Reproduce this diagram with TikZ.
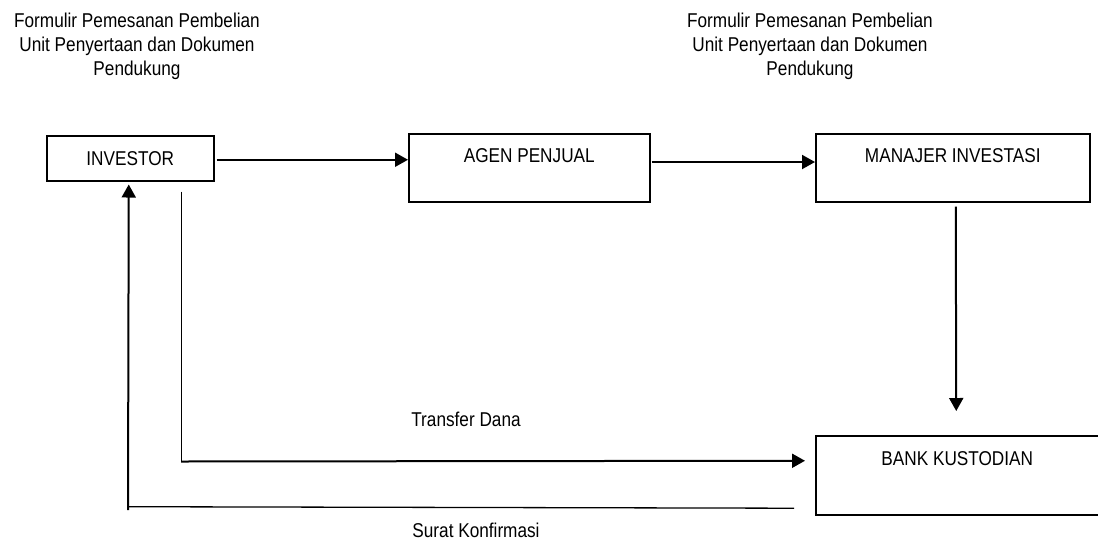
\documentclass[tikz,border=0pt]{standalone}
\usepackage{fontspec}
\setmainfont{Liberation Sans}[FakeStretch=0.86]
\usetikzlibrary{arrows.meta}
\begin{document}
\begin{tikzpicture}[x=1pt,y=-1pt,
  every node/.style={font=\fontsize{20}{24}\selectfont},
  box/.style={draw,line width=1.5pt,inner sep=0pt,align=center},
  arr/.style={line width=2pt,-{Triangle[length=13pt,width=14pt]}},
  thin/.style={line width=1pt},
  lbl/.style={align=center,inner sep=0pt}]
\fill[white] (0,0) rectangle (1098,547);
\useasboundingbox (0,0) rectangle (1098,547);
% boxes
\node[box,anchor=north west,minimum width=167pt,minimum height=45pt] (inv) at (46,135) {INVESTOR};
\node[box,anchor=north west,minimum width=241pt,text height=29pt,text depth=39pt] (agen) at (408,133) {AGEN PENJUAL};
\node[box,anchor=north west,minimum width=274pt,text height=29pt,text depth=39pt] (man) at (815,133) {MANAJER INVESTASI};
\node[box,anchor=north west,minimum width=283pt,text height=30pt,text depth=49pt] (bank) at (815,435) {BANK KUSTODIAN};
% labels
\node[lbl] (l1) at (137,46) {Formulir Pemesanan Pembelian\\Unit Penyertaan dan Dokumen\\Pendukung};
\node[lbl] (l2) at (810,46) {Formulir Pemesanan Pembelian\\Unit Penyertaan dan Dokumen\\Pendukung};
\node[lbl] (l3) at (466,419) {Transfer Dana};
\node[lbl] (l4) at (476,530) {Surat Konfirmasi};
% connectors
\draw[arr] ([xshift=2pt,yshift=-1.5pt]inv.east) -- ([yshift=-1.5pt]inv.east -| agen.west);
\draw[arr] ([xshift=1pt,yshift=-29pt]agen.north east) -- ([yshift=-29pt]man.north west);
\draw[arr] ([xshift=3pt,yshift=-4pt]man.south) -- ([xshift=-1pt,yshift=24pt]bank.north);
\draw[thin] ([xshift=-33pt,yshift=-10pt]inv.south east) -- ++(0,270);
\draw[arr] ([xshift=-33.5pt,yshift=-280pt]inv.south east) -- ([xshift=-10pt,yshift=14.5pt]bank.west);
\draw[line width=1.3pt] ([xshift=-21pt,yshift=7.3pt]bank.south west) -- (128,506.7);
\draw[arr] (128,510) -- ([xshift=-1.5pt,yshift=-3pt]inv.south);
\end{tikzpicture}
\end{document}
